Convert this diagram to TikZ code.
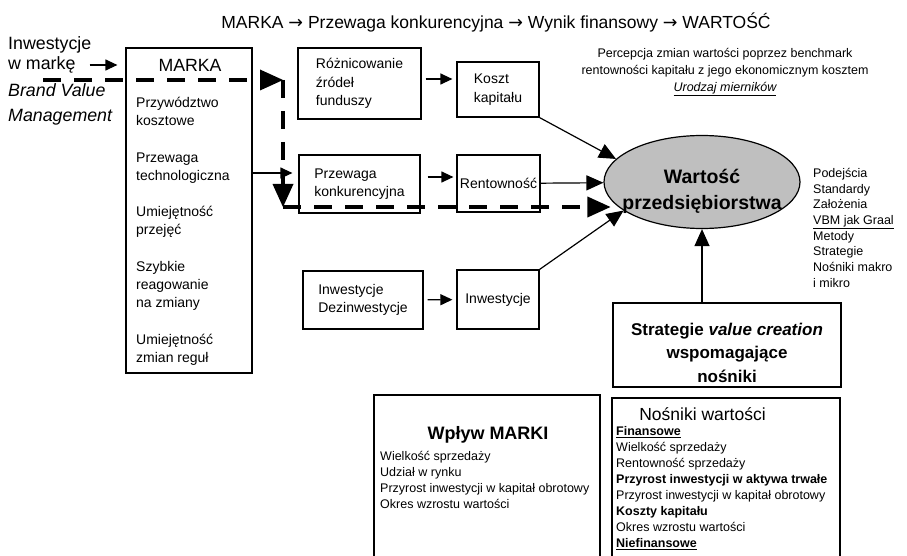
\documentclass[tikz,border=0pt]{standalone}
\usepackage{fontspec}
\setmainfont{Liberation Sans}
\newfontfamily\arrfont{DejaVu Sans}
\usetikzlibrary{arrows.meta,positioning,shapes.geometric}

\newcommand{\fs}[2]{\fontsize{#1}{#2}\selectfont}

\begin{document}
\begin{tikzpicture}[x=1pt, y=-1pt,
  box/.style={draw, line width=1.2pt, align=left, inner sep=0pt, font=\fs{14}{18.5}},
  txt/.style={inner sep=0pt, align=left},
  arr/.style={-{Triangle[length=12pt,width=11pt]}, line width=1.2pt},
  bigarr/.style={-{Triangle[length=17pt,width=15pt]}, line width=1.2pt},
  dasharr/.style={-{Triangle[length=23pt,width=21pt,line width=0pt]}, line width=3.5pt,
    dash pattern=on 18pt off 13pt}
]
\clip (0,0) rectangle (907,556);

% naglowek
\node[font=\fs{17.5}{20}] (title) at (496,22)
  {MARKA {\arrfont→} Przewaga konkurencyjna {\arrfont→} Wynik finansowy {\arrfont→} WARTOŚĆ};

% lewa strona
\node[txt, anchor=west, font=\fs{17.8}{20}] (inwA) at (8,45) {Inwestycje};
\node[txt, anchor=west, font=\fs{17.8}{20}] (inwB) at (8,65) {w markę};
\node[txt, anchor=west, font=\fs{17.8}{25}\itshape] (bvm) at (8,104) {Brand Value\\Management};

\node[box, minimum width=126pt, minimum height=325pt] (marka) at (189,210.5) {};
\node[font=\fs{17.7}{20}] (markat) at (190,65) {MARKA};
\node[txt, anchor=north west, font=\fs{14}{18.2}] (cechy) at (136,97)
  {Przywództwo\\kosztowe\\[18.2pt]Przewaga\\technologiczna\\[18.2pt]Umiejętność\\przejęć\\[18.2pt]%
   Szybkie\\reagowanie\\na zmiany\\[18.2pt]Umiejętność\\zmian reguł};

% srodek
\node[box, minimum width=123pt, minimum height=71pt] (rozn) at (359.5,83.5) {Różnicowanie\\źródeł\\funduszy};
\node[box, minimum width=82pt, minimum height=55pt] (koszt) at (498,89.5) {Koszt\\kapitału};
\node[box, minimum width=121pt, minimum height=58pt] (przew) at (359.5,184) {Przewaga\\konkurencyjna};
\node[box, minimum width=83pt, minimum height=57pt] (rent) at (498.5,183.5) {Rentowność};
\node[box, minimum width=120pt, minimum height=58pt] (dezinw) at (363,300) {Inwestycje\\Dezinwestycje};
\node[box, minimum width=82pt, minimum height=59pt] (inw) at (498,299.5) {Inwestycje};

% wartosc
\node[ellipse, draw, line width=1.2pt, fill=gray!50, minimum width=196pt, minimum height=93pt] (val) at (702,182) {};
\node[align=center, inner sep=0pt, font=\bfseries\fs{19.5}{26}] (valt) at (702,191) {Wartość\\przedsiębiorstwa};

\node[align=center, inner sep=0pt, font=\fs{12.5}{17}] (perc) at (725,72)
  {Percepcja zmian wartości poprzez benchmark\\rentowności kapitału z jego ekonomicznym kosztem\\\textit{\underline{Urodzaj mierników}}};
\node[txt, anchor=north west, font=\fs{12.5}{15.7}] (podej) at (813,168)
  {Podejścia\\Standardy\\Założenia\\\underline{VBM jak Graal}\\Metody\\Strategie\\Nośniki makro\\i mikro};

\node[box, minimum width=228pt, minimum height=84pt] (strat) at (727,345) {};
\node[align=center, inner sep=0pt, font=\bfseries\fs{17}{23.5}] (stratt) at (727,352.5)
  {Strategie \textit{value creation}\\wspomagające\\nośniki};

% dol
\node[box, minimum width=226pt, minimum height=190pt] (wplyw) at (487,490) {};
\node[font=\bfseries\fs{18}{20}, inner sep=0pt] (wplywt) at (488,435) {Wpływ MARKI};
\node[txt, anchor=north west, font=\fs{12.5}{16}] (wplywl) at (380,451)
  {Wielkość sprzedaży\\Udział w rynku\\Przyrost inwestycji w kapitał obrotowy\\Okres wzrostu wartości};

\node[box, minimum width=228pt, minimum height=190pt] (nosn) at (726,493) {};
\node[font=\fs{17.5}{20}, inner sep=0pt] (nosnt) at (702.5,414.5) {Nośniki wartości};
\node[txt, anchor=north west, font=\fs{12.5}{16}] (nosnl) at (616,426)
  {\textbf{\underline{Finansowe}}\\Wielkość sprzedaży\\Rentowność sprzedaży\\\textbf{Przyrost inwestycji w aktywa trwałe}\\%
   Przyrost inwestycji w kapitał obrotowy\\\textbf{Koszty kapitału}\\Okres wzrostu wartości\\\textbf{\underline{Niefinansowe}}};

% strzalki
\draw[arr, shorten <=14pt, shorten >=8pt] (inwB.east) -- (inwB -| marka.west);
\draw[arr, shorten <=4pt, shorten >=4pt] ([yshift=4.5pt]rozn.east) -- ([yshift=4.5pt]rozn.east -| koszt.west);
\draw[arr, shorten >=6pt] ([yshift=11pt]przew.west -| marka.east) -- ([yshift=11pt]przew.west);
\draw[arr, shorten <=7pt, shorten >=3pt] ([yshift=7pt]przew.east) -- ([yshift=7pt]przew.east -| rent.west);
\draw[arr, shorten <=4pt, shorten >=4pt] (dezinw) -- (inw);
\draw[bigarr] (koszt.south east) -- (val.165);
\draw[bigarr] (rent) -- (val);
\draw[bigarr] (inw.north east) -- (val.200);
\draw[bigarr] (strat.north -| val.south) -- (val.south);

% sciezka przerywana
\coordinate (d0) at (43,80);
\coordinate (d1) at (283,80);
\coordinate (d2) at (283,207);
\draw[dasharr] (d0) -- (d1);
\draw[dasharr] (d1) -- (d2);
\draw[dasharr, shorten >=7pt] (d2) -- (d2 -| val.196);
\end{tikzpicture}
\end{document}
